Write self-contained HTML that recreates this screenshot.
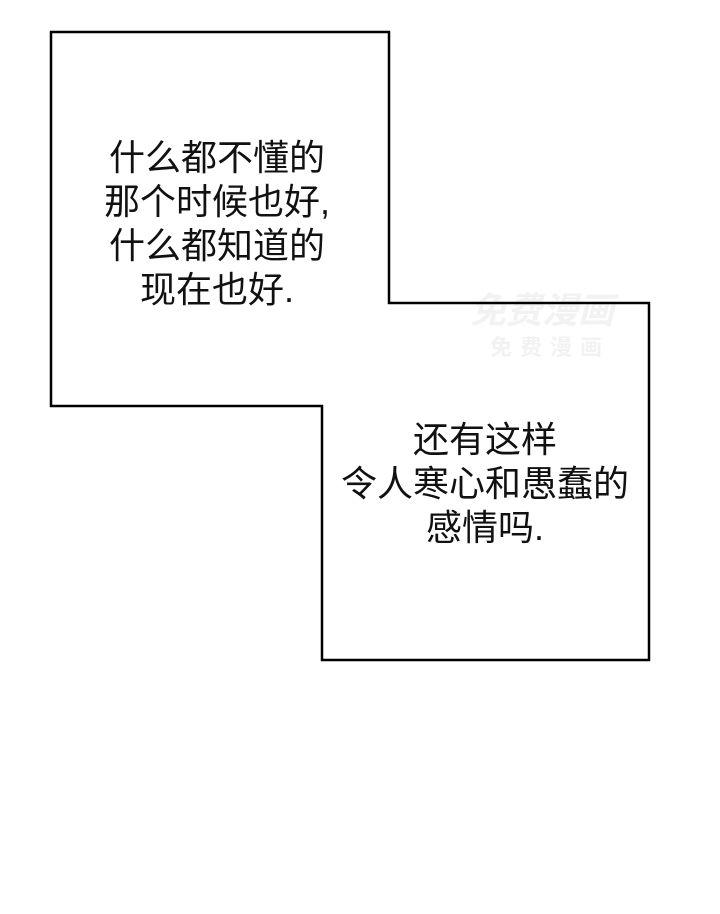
<!DOCTYPE html>
<html><head><meta charset="utf-8"><style>
body{margin:0;width:720px;height:914px;background:#fff;position:relative;overflow:hidden}
.t{position:absolute;font-family:"Liberation Sans","Noto Sans CJK SC",sans-serif;font-size:36px;line-height:44px;color:#111;text-align:center;white-space:nowrap}
.wm{position:absolute;font-family:"Noto Sans CJK SC",sans-serif;color:#f2f2f2;font-weight:bold;white-space:nowrap}
</style></head><body>
<div class="wm" style="left:470px;top:282px;font-size:36px;font-style:italic">免费漫画</div>
<div class="wm" style="left:490px;top:330px;font-size:22px;letter-spacing:8px">免费漫画</div>
<svg width="720" height="914" style="position:absolute;left:0;top:0">
<polygon points="51,32 389,32 389,303 649,303 649,660 322,660 322,406 51,406" fill="none" stroke="#000" stroke-width="2.5"/>
</svg>
<div class="t" style="left:67px;width:300px;top:136px">什么都不懂的<br>那个时候也好,<br>什么都知道的<br>现在也好.</div>
<div class="t" style="left:335px;width:300px;top:418px">还有这样<br>令人寒心和愚蠢的<br>感情吗.</div>
</body></html>
